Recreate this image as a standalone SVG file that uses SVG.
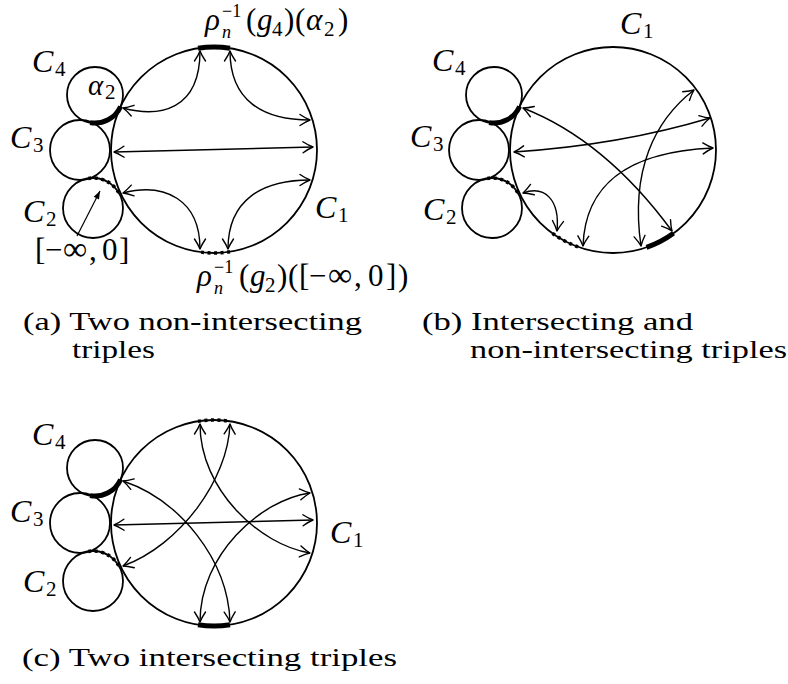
<svg xmlns="http://www.w3.org/2000/svg" width="788" height="684" viewBox="0 0 788 684">
<defs>
<marker id="ah" markerUnits="userSpaceOnUse" markerWidth="24" markerHeight="24" refX="0" refY="0" orient="auto-start-reverse" overflow="visible">
<path d="M-10,-5.5 Q-4,-1.5 0,0 Q-4,1.5 -10,5.5" fill="none" stroke="#000" stroke-width="1.4" stroke-linecap="round" stroke-linejoin="round"/>
</marker>
<marker id="ahs" markerUnits="userSpaceOnUse" markerWidth="20" markerHeight="20" refX="0" refY="0" orient="auto" overflow="visible">
<path d="M-8,-3 L0,0 L-8,3 Z" fill="#000"/>
</marker>
</defs>
<style>
.c{fill:none;stroke:#000;stroke-width:1.8}
.thick{fill:none;stroke:#000;stroke-width:5}
.dot{fill:none;stroke:#000;stroke-width:3.5;stroke-dasharray:3 3.5}
.ar{fill:none;stroke:#000;stroke-width:1.4;marker-start:url(#ah);marker-end:url(#ah)}
.ptr{fill:none;stroke:#000;stroke-width:1.2;marker-end:url(#ahs)}
text{font-family:"Liberation Serif","Times New Roman",serif;fill:#000}
.m{font-size:31px}
.cl{font-size:32px}
.it{font-style:italic}
.sb{font-size:21px}
.sp{font-size:18px}
.cap{font-size:25px}
</style>

<!-- Panel (a) -->
<g id="a-C1">
<circle class="c" cx="214" cy="150" r="103"/>
<path class="thick" d="M198,48.3 A103,103 0 0 1 230,48.3"/>
<path class="dot" d="M230,251.7 A103,103 0 0 1 198,251.7"/>
<text class="cl"><tspan class="it" x="315" y="218">C</tspan><tspan class="sb" x="338" y="222">1</tspan></text>
<text class="m"><tspan class="it" x="205" y="30">ρ</tspan><tspan class="sp" x="222" y="17">−1</tspan><tspan class="sp it" x="222" y="38">n</tspan><tspan x="246" y="30">(</tspan><tspan class="it" x="257" y="30">g</tspan><tspan class="sb" x="272" y="36">4</tspan><tspan x="284" y="30">)</tspan><tspan x="295" y="30">(</tspan><tspan class="it" x="306" y="30">α</tspan><tspan class="sb" x="324" y="36">2</tspan><tspan x="338" y="30">)</tspan></text>
<text class="m"><tspan class="it" x="197" y="286">ρ</tspan><tspan class="sp" x="214" y="273">−1</tspan><tspan class="sp it" x="214" y="294">n</tspan><tspan x="239" y="286">(</tspan><tspan class="it" x="250" y="286">g</tspan><tspan class="sb" x="265" y="292">2</tspan><tspan x="277" y="286">)</tspan><tspan x="288" y="286">(</tspan><tspan x="299" y="286">[</tspan><tspan x="309" y="286">−</tspan><tspan x="328" y="286" style="font-size:34px">∞</tspan><tspan x="354" y="286">,</tspan><tspan x="368" y="286">0</tspan><tspan x="386" y="286">]</tspan><tspan x="398" y="286">)</tspan></text>
</g>
<g id="a-C4">
<circle class="c" cx="95" cy="95" r="28"/>
<path class="thick" d="M120.6,106.4 A28,28 0 0 1 90.1,122.6"/>
<text class="cl"><tspan class="it" x="32" y="72">C</tspan><tspan class="sb" x="55" y="76">4</tspan></text>
<text class="m" style="font-size:29px"><tspan class="it" x="88" y="95">α</tspan><tspan class="sb" x="105" y="99">2</tspan></text>
</g>
<g id="a-C3">
<circle class="c" cx="80" cy="150" r="30"/>
<text class="cl"><tspan class="it" x="10" y="148">C</tspan><tspan class="sb" x="33" y="152">3</tspan></text>
</g>
<g id="a-C2">
<circle class="c" cx="93" cy="208" r="30"/>
<path class="dot" d="M88.3,178.4 A30,30 0 0 1 120,194.8"/>
<text class="cl"><tspan class="it" x="23" y="222">C</tspan><tspan class="sb" x="46" y="226">2</tspan></text>
<text class="m"><tspan x="35" y="260">[</tspan><tspan x="45" y="260">−</tspan><tspan x="63" y="260" style="font-size:34px">∞</tspan><tspan x="89" y="260">,</tspan><tspan x="102" y="260">0</tspan><tspan x="119" y="260">]</tspan></text>
</g>

<!-- Panel (b) -->
<g id="b-C1">
<circle class="c" cx="613" cy="150" r="103"/>
<path class="dot" d="M552.5,233.3 A103,103 0 0 0 581.2,248"/>
<path class="thick" d="M646.5,247.4 A103,103 0 0 0 673.5,233.3"/>
<text class="cl"><tspan class="it" x="620" y="34">C</tspan><tspan class="sb" x="643" y="38">1</tspan></text>
</g>
<g id="b-C4">
<circle class="c" cx="494" cy="95" r="28"/>
<path class="thick" d="M519.6,106.4 A28,28 0 0 1 489.1,122.6"/>
<text class="cl"><tspan class="it" x="432" y="71">C</tspan><tspan class="sb" x="455" y="75">4</tspan></text>
</g>
<g id="b-C3">
<circle class="c" cx="479" cy="150" r="30"/>
<text class="cl"><tspan class="it" x="410" y="147">C</tspan><tspan class="sb" x="433" y="151">3</tspan></text>
</g>
<g id="b-C2">
<circle class="c" cx="492" cy="208" r="30"/>
<path class="dot" d="M487.3,178.4 A30,30 0 0 1 519,194.8"/>
<text class="cl"><tspan class="it" x="423" y="220">C</tspan><tspan class="sb" x="446" y="224">2</tspan></text>
</g>

<!-- Panel (c) -->
<g id="c-C1">
<circle class="c" cx="214" cy="523" r="103"/>
<path class="dot" d="M198,421.3 A103,103 0 0 1 230,421.3"/>
<path class="thick" d="M230,624.7 A103,103 0 0 1 198,624.7"/>
<text class="cl"><tspan class="it" x="330" y="543">C</tspan><tspan class="sb" x="353" y="547">1</tspan></text>
</g>
<g id="c-C4">
<circle class="c" cx="95" cy="468" r="28"/>
<path class="thick" d="M120.6,479.4 A28,28 0 0 1 90.1,495.6"/>
<text class="cl"><tspan class="it" x="32" y="445">C</tspan><tspan class="sb" x="55" y="449">4</tspan></text>
</g>
<g id="c-C3">
<circle class="c" cx="80" cy="523" r="30"/>
<text class="cl"><tspan class="it" x="10" y="522">C</tspan><tspan class="sb" x="33" y="526">3</tspan></text>
</g>
<g id="c-C2">
<circle class="c" cx="93" cy="581" r="30"/>
<path class="dot" d="M88.3,551.4 A30,30 0 0 1 120,567.8"/>
<text class="cl"><tspan class="it" x="23" y="592">C</tspan><tspan class="sb" x="46" y="596">2</tspan></text>
</g>

<g id="connectors">
<!-- (a) -->
<path class="ar" d="M123,108 C160,118 200,110 200,51"/>
<path class="ar" d="M230,51 C230,100 262,120 310,120"/>
<path class="ar" d="M114,152 L313,147"/>
<path class="ar" d="M123,193 C165,182 200,200 200,249"/>
<path class="ar" d="M228,249 C228,200 262,180 310,180"/>
<path class="ptr" d="M77,236 L100,191"/>
<!-- (b) -->
<path class="ar" d="M523,108 Q605,140 672,231"/>
<path class="ar" d="M514,152 Q620,145 710,118"/>
<path class="ar" d="M583,246 C585,190 620,152 713,148"/>
<path class="ar" d="M641,246 C630,170 655,120 694,90"/>
<path class="ar" d="M523,193 C545,185 560,200 557,231"/>
<!-- (c) -->
<path class="ar" d="M123,481 C180,500 228,560 230,622"/>
<path class="ar" d="M123,566 C180,545 228,480 230,424"/>
<path class="ar" d="M114,525 L313,520"/>
<path class="ar" d="M200,424 C200,490 260,545 310,553"/>
<path class="ar" d="M200,622 C200,555 260,500 310,493"/>
</g>

<g id="captions">
<text class="cap" x="23" y="330" textLength="339" lengthAdjust="spacingAndGlyphs">(a) Two non-intersecting</text>
<text class="cap" x="72" y="358" textLength="83" lengthAdjust="spacingAndGlyphs">triples</text>
<text class="cap" x="422" y="330" textLength="271" lengthAdjust="spacingAndGlyphs">(b) Intersecting and</text>
<text class="cap" x="470" y="358" textLength="317" lengthAdjust="spacingAndGlyphs">non-intersecting triples</text>
<text class="cap" x="22" y="666" textLength="375" lengthAdjust="spacingAndGlyphs">(c) Two intersecting triples</text>
</g>
</svg>
